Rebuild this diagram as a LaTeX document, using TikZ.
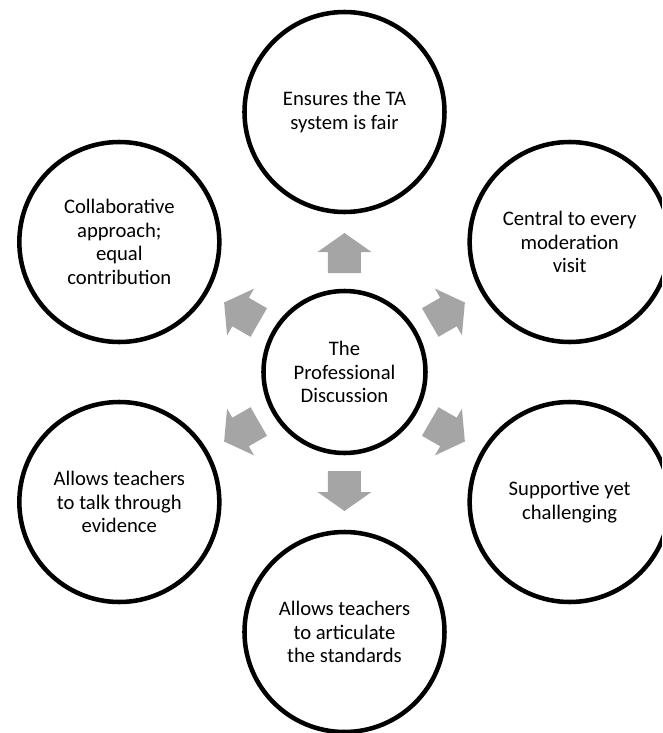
\documentclass[tikz,border=0pt]{standalone}
\usepackage{fontspec}
\setmainfont{Carlito}
\definecolor{arrowgrey}{RGB}{165,165,165}

\begin{document}
\begin{tikzpicture}[
    x=0.75pt, y=0.75pt,
    every bubble/.style={
        circle,
        draw,
        line width=3.4pt,
        minimum size=150pt,
        inner sep=0pt,
        align=center,
        font=\fontsize{15.5}{17.6}\selectfont
    },
    hub bubble/.style={
        every bubble,
        minimum size=121.5pt
    },
    block arrow/.style={
        fill=arrowgrey,
        draw=none
    }
]
\useasboundingbox (-344.5,-361) rectangle (317.5,372);
\clip (-344.5,-361) rectangle (317.5,372);

% Centre
\node [hub bubble] (hub) at (0,0) {The\\Professional\\Discussion};

% Outer circles
\node [every bubble] (fair) at (90:260) {Ensures the TA\\system is fair};
\node [every bubble] (visit) at (30:260) {Central to every\\moderation\\visit};
\node [every bubble] (support) at (-30:260) {Supportive yet\\challenging};
\node [every bubble] (standards) at (-90:260) {Allows teachers\\to articulate\\the standards};
\node [every bubble] (evidence) at (210:260) {Allows teachers\\to talk through\\evidence};
\node [every bubble] (collab) at (150:260) {Collaborative\\approach;\\equal\\contribution};

% Block arrows
\foreach \a in {90,30,-30,-90,210,150}
    \fill [block arrow, rotate=\a] (99,-16.5) -- (120,-16.5) -- (120,-27) -- (139,0)
        -- (120,27) -- (120,16.5) -- (99,16.5) -- cycle;

\end{tikzpicture}
\end{document}
